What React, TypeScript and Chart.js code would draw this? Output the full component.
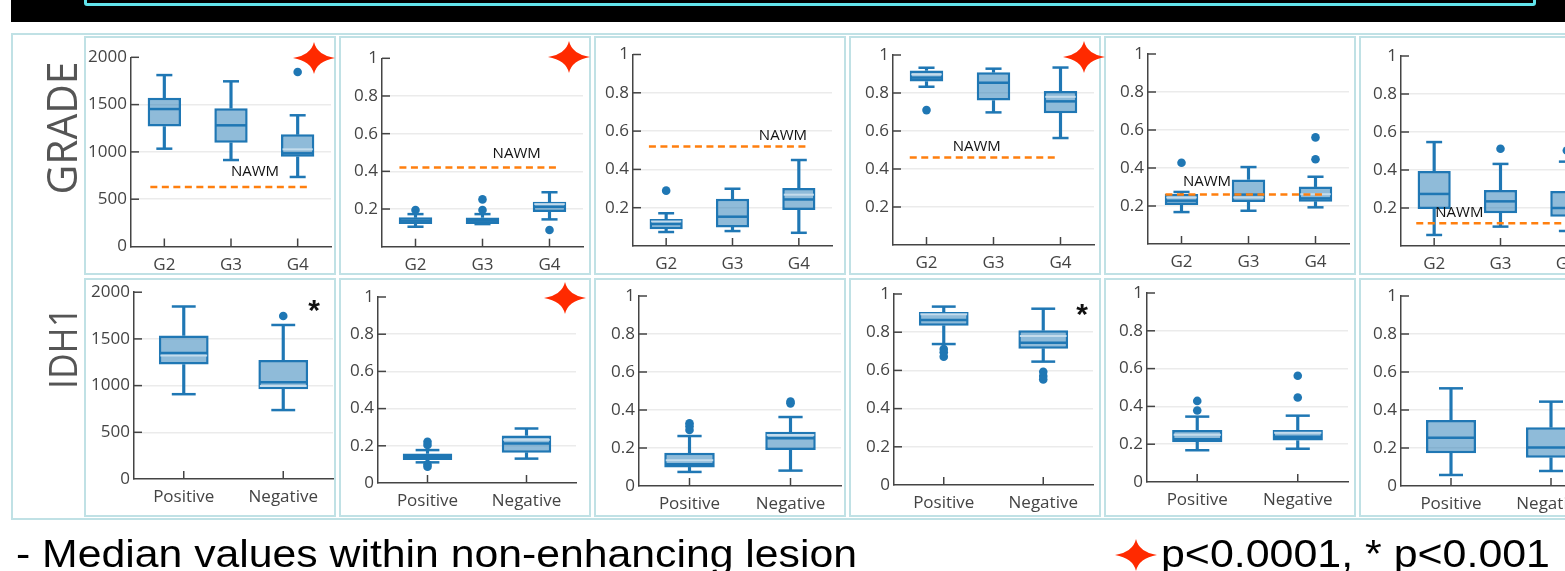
import React, { useEffect, useRef } from "react";
import { Chart, registerables } from "chart.js";

Chart.register(...registerables);

// ---------------- DATA ----------------
const gradeCats = ["G2", "G3", "G4"];
const idhCats = ["Positive", "Negative"];
const rowLabels = ["GRADE", "IDH1"];
const footnote = "- Median values within non-enhancing lesion";
const legendText = "p<0.0001, * p<0.001";
const nawmLabel = "NAWM";

// Row 1 (GRADE), panel A
const gradeALow = [1034, 914, 735];
const gradeAQ1 = [1268, 1097, 949];
const gradeAMed = [1453, 1281, 985];
const gradeAQ3 = [1573, 1461, 1186];
const gradeAHigh = [1812, 1746, 1387];
const gradeALight = [null, null, 1027];
const gradeAOut = [[], [], [1845]];
const gradeANawm = 630;

// panel B
const gradeBLow = [0.106, 0.12, 0.145];
const gradeBQ1 = [0.12, 0.12, 0.184];
const gradeBMed = [0.138, 0.138, 0.212];
const gradeBQ3 = [0.156, 0.155, 0.239];
const gradeBHigh = [0.173, 0.173, 0.289];
const gradeBLight = [null, null, 0.226];
const gradeBOut = [[0.195], [0.195, 0.251], [0.089]];
const gradeBNawm = 0.42;

// panel C
const gradeCLow = [0.073, 0.078, 0.069];
const gradeCQ1 = [0.087, 0.097, 0.188];
const gradeCMed = [0.115, 0.153, 0.243];
const gradeCQ3 = [0.141, 0.247, 0.303];
const gradeCHigh = [0.171, 0.299, 0.449];
const gradeCLight = [0.128, null, 0.268];
const gradeCOut = [[0.289], [], []];
const gradeCNawm = 0.52;

// panel D
const gradeDLow = [0.833, 0.698, 0.563];
const gradeDQ1 = [0.86, 0.76, 0.693];
const gradeDMed = [0.881, 0.854, 0.756];
const gradeDQ3 = [0.919, 0.909, 0.81];
const gradeDHigh = [0.933, 0.928, 0.934];
const gradeDLight = [0.898, null, 0.78];
const gradeDOut = [[0.71], [], []];
const gradeDNawm = 0.46;

// panel E
const gradeELow = [0.168, 0.175, 0.193];
const gradeEQ1 = [0.205, 0.221, 0.223];
const gradeEMed = [0.228, 0.26, 0.24];
const gradeEQ3 = [0.263, 0.34, 0.302];
const gradeEHigh = [0.274, 0.405, 0.354];
const gradeELight = [0.245, 0.245, 0.262];
const gradeEOut = [[0.428], [], [0.561, 0.446]];
const gradeENawm = 0.26;

// panel F
const gradeFLow = [0.058, 0.102, 0.079];
const gradeFQ1 = [0.195, 0.172, 0.154];
const gradeFMed = [0.274, 0.235, 0.2];
const gradeFQ3 = [0.395, 0.295, 0.29];
const gradeFHigh = [0.547, 0.432, 0.444];
const gradeFLight = [null, null, null];
const gradeFOut = [[], [0.512], [0.503]];
const gradeFNawm = 0.12;

// Row 2 (IDH1)
const idhALow = [908, 738];
const idhAQ1 = [1226, 961];
const idhAMed = [1349, 1035];
const idhAQ3 = [1536, 1275];
const idhAHigh = [1847, 1649];
const idhALight = [1321, 995];
const idhAOut = [[], [1745]];

const idhBLow = [0.111, 0.131];
const idhBQ1 = [0.123, 0.163];
const idhBMed = [0.141, 0.213];
const idhBQ3 = [0.159, 0.256];
const idhBHigh = [0.177, 0.293];
const idhBLight = [null, 0.232];
const idhBOut = [[0.222, 0.204, 0.1, 0.087], []];

const idhCLow = [0.074, 0.081];
const idhCQ1 = [0.098, 0.189];
const idhCMed = [0.115, 0.251];
const idhCQ3 = [0.175, 0.286];
const idhCHigh = [0.263, 0.363];
const idhCLight = [0.135, 0.268];
const idhCOut = [[0.33, 0.315, 0.295], [0.444, 0.435]];

const idhDLow = [0.738, 0.646];
const idhDQ1 = [0.834, 0.714];
const idhDMed = [0.864, 0.745];
const idhDQ3 = [0.906, 0.81];
const idhDHigh = [0.934, 0.923];
const idhDLight = [0.894, 0.78];
const idhDOut = [[0.712, 0.695, 0.672], [0.593, 0.571, 0.553]];

const idhELow = [0.168, 0.176];
const idhEQ1 = [0.21, 0.219];
const idhEMed = [0.226, 0.24];
const idhEQ3 = [0.275, 0.275];
const idhEHigh = [0.346, 0.351];
const idhELight = [0.25, 0.26];
const idhEOut = [[0.429, 0.378], [0.562, 0.447]];

const idhFLow = [0.058, 0.079];
const idhFQ1 = [0.172, 0.149];
const idhFMed = [0.254, 0.202];
const idhFQ3 = [0.347, 0.309];
const idhFHigh = [0.514, 0.444];
const idhFLight = [null, null];
const idhFOut = [[], []];

// ---------------- STYLE / LAYOUT ----------------
const BLUE = "#1f77b4";
const FILL = "rgba(31,119,180,0.5)";
const LIGHT = "rgba(200,222,238,0.95)";
const ORANGE = "#ff7f0e";
const AXIS = "#444";
const GRID = "#ebebeb";
const FRAME = "#c0e1e5";
const STAR = "#ff2a00";
const FONT = "'Open Sans', 'Noto Sans', sans-serif";

const panelLefts = [84, 339, 594, 849, 1104, 1359];
const rowTops = [36, 278];
const PANEL_W = 252;
const PANEL_H = 239;

// plot rectangles in page coordinates: [left, right, top(max), bottom(0)]
const plotRects = [
  [[131, 331, 57.3, 246.5], [382, 583, 58.3, 246.7], [633, 832, 54.5, 246], [893, 1094, 55, 245], [1148, 1349, 54, 244], [1401, 1600, 56, 246]],
  [[134, 333, 290, 479], [378, 576, 297, 483], [639, 841, 296, 486], [894, 1093, 294, 485], [1147, 1348, 293, 482], [1401, 1601, 296, 486]],
];
// NAWM line span (category units relative to first/last) and label position [x in cat units, px above]
const nawmSpans = [[-0.21, 0.15], [-0.24, 0.12], [-0.26, 0.14], [-0.25, -0.05], [-0.24, 0.1], [-0.27, 0.15]];
const nawmLabelPos = [[1.36, 15], [1.51, 14], [1.76, 11], [0.75, 11], [0.38, 13], [0.38, 10]];

type PanelSpec = {
  cats: string[];
  low: number[];
  q1: number[];
  med: number[];
  q3: number[];
  high: number[];
  light: (number | null)[];
  out: number[][];
  max: number;
  step: number;
  hideZero: boolean;
  nawm: number | null;
};

const gradePanels: PanelSpec[] = [
  { cats: gradeCats, low: gradeALow, q1: gradeAQ1, med: gradeAMed, q3: gradeAQ3, high: gradeAHigh, light: gradeALight, out: gradeAOut, max: 2000, step: 500, hideZero: false, nawm: gradeANawm },
  { cats: gradeCats, low: gradeBLow, q1: gradeBQ1, med: gradeBMed, q3: gradeBQ3, high: gradeBHigh, light: gradeBLight, out: gradeBOut, max: 1, step: 0.2, hideZero: true, nawm: gradeBNawm },
  { cats: gradeCats, low: gradeCLow, q1: gradeCQ1, med: gradeCMed, q3: gradeCQ3, high: gradeCHigh, light: gradeCLight, out: gradeCOut, max: 1, step: 0.2, hideZero: true, nawm: gradeCNawm },
  { cats: gradeCats, low: gradeDLow, q1: gradeDQ1, med: gradeDMed, q3: gradeDQ3, high: gradeDHigh, light: gradeDLight, out: gradeDOut, max: 1, step: 0.2, hideZero: true, nawm: gradeDNawm },
  { cats: gradeCats, low: gradeELow, q1: gradeEQ1, med: gradeEMed, q3: gradeEQ3, high: gradeEHigh, light: gradeELight, out: gradeEOut, max: 1, step: 0.2, hideZero: true, nawm: gradeENawm },
  { cats: gradeCats, low: gradeFLow, q1: gradeFQ1, med: gradeFMed, q3: gradeFQ3, high: gradeFHigh, light: gradeFLight, out: gradeFOut, max: 1, step: 0.2, hideZero: true, nawm: gradeFNawm },
];
const idhPanels: PanelSpec[] = [
  { cats: idhCats, low: idhALow, q1: idhAQ1, med: idhAMed, q3: idhAQ3, high: idhAHigh, light: idhALight, out: idhAOut, max: 2000, step: 500, hideZero: false, nawm: null },
  { cats: idhCats, low: idhBLow, q1: idhBQ1, med: idhBMed, q3: idhBQ3, high: idhBHigh, light: idhBLight, out: idhBOut, max: 1, step: 0.2, hideZero: false, nawm: null },
  { cats: idhCats, low: idhCLow, q1: idhCQ1, med: idhCMed, q3: idhCQ3, high: idhCHigh, light: idhCLight, out: idhCOut, max: 1, step: 0.2, hideZero: false, nawm: null },
  { cats: idhCats, low: idhDLow, q1: idhDQ1, med: idhDMed, q3: idhDQ3, high: idhDHigh, light: idhDLight, out: idhDOut, max: 1, step: 0.2, hideZero: false, nawm: null },
  { cats: idhCats, low: idhELow, q1: idhEQ1, med: idhEMed, q3: idhEQ3, high: idhEHigh, light: idhELight, out: idhEOut, max: 1, step: 0.2, hideZero: false, nawm: null },
  { cats: idhCats, low: idhFLow, q1: idhFQ1, med: idhFMed, q3: idhFQ3, high: idhFHigh, light: idhFLight, out: idhFOut, max: 1, step: 0.2, hideZero: false, nawm: null },
];
const rows = [gradePanels, idhPanels];

// stars (row, col) and asterisks
const starMarks = [[314, 58], [569, 57], [1084, 57], [565, 298]];
const legendStar = [1136, 555];
const asteriskMarks = [[314, 320], [1082, 324]];

function BoxPanel({ p, row, col }: { p: PanelSpec; row: number; col: number }) {
  const ref = useRef<HTMLCanvasElement>(null);
  const left = panelLefts[col];
  const top = rowTops[row];
  const [pl, pr, pt, pb] = plotRects[row][col];

  useEffect(() => {
    const canvas = ref.current;
    if (!canvas) return;
    const n = p.cats.length;
    const padTop = pt - top;
    const padRight = left + PANEL_W - pr;
    const leftW = pl - left;
    const bottomH = top + PANEL_H - pb;

    const extras = {
      id: "boxExtras",
      beforeDatasetsDraw(chart: any) {
        const { ctx, chartArea: a } = chart;
        const xs = chart.scales.x;
        const ys = chart.scales.y;
        ctx.save();
        ctx.strokeStyle = AXIS;
        ctx.lineWidth = 1.5;
        ys.ticks.forEach((t: any) => {
          if (t.value === 0) return;
          const y = ys.getPixelForValue(t.value);
          ctx.beginPath();
          ctx.moveTo(a.left, y);
          ctx.lineTo(a.left + 8, y);
          ctx.stroke();
        });
        for (let i = 0; i < n; i++) {
          const x = xs.getPixelForValue(i);
          ctx.beginPath();
          ctx.moveTo(x, a.bottom);
          ctx.lineTo(x, a.bottom - 8);
          ctx.stroke();
        }
        ctx.restore();
      },
      afterDatasetsDraw(chart: any) {
        const { ctx, chartArea: a } = chart;
        const xs = chart.scales.x;
        const ys = chart.scales.y;
        const stepPx = a.width / n;
        ctx.save();
        for (let i = 0; i < n; i++) {
          const x = xs.getPixelForValue(i);
          ctx.lineWidth = 2.5;
          ctx.strokeStyle = BLUE;
          [p.low[i], p.high[i]].forEach((v) => {
            const y = ys.getPixelForValue(v);
            ctx.beginPath();
            ctx.moveTo(x - 0.12 * stepPx, y);
            ctx.lineTo(x + 0.12 * stepPx, y);
            ctx.stroke();
          });
          const hw = 0.25 * stepPx - 1.5;
          const lv = p.light[i];
          if (lv !== null && lv !== undefined) {
            const y = ys.getPixelForValue(lv);
            ctx.strokeStyle = LIGHT;
            ctx.lineWidth = 2;
            ctx.beginPath();
            ctx.moveTo(x - hw, y);
            ctx.lineTo(x + hw, y);
            ctx.stroke();
          }
          const ym = ys.getPixelForValue(p.med[i]);
          ctx.strokeStyle = BLUE;
          ctx.lineWidth = 2.5;
          ctx.beginPath();
          ctx.moveTo(x - hw, ym);
          ctx.lineTo(x + hw, ym);
          ctx.stroke();
        }
        if (p.nawm !== null) {
          const [s0, s1] = nawmSpans[col];
          const [lx, ly] = nawmLabelPos[col];
          const x0 = xs.getPixelForValue(0) + s0 * stepPx;
          const x1 = xs.getPixelForValue(n - 1) + s1 * stepPx;
          const y = ys.getPixelForValue(p.nawm);
          ctx.strokeStyle = ORANGE;
          ctx.lineWidth = 2.5;
          ctx.setLineDash([7, 4.5]);
          ctx.beginPath();
          ctx.moveTo(x0, y);
          ctx.lineTo(x1, y);
          ctx.stroke();
          ctx.setLineDash([]);
          ctx.fillStyle = "#111";
          ctx.font = "15px " + FONT;
          ctx.textAlign = "center";
          ctx.textBaseline = "middle";
          ctx.fillText(nawmLabel, xs.getPixelForValue(0) + lx * stepPx, y - ly);
        }
        ctx.restore();
      },
    };

    const outliers: { x: string; y: number }[] = [];
    p.out.forEach((arr, i) => arr.forEach((v) => outliers.push({ x: p.cats[i], y: v })));

    const chart = new Chart(canvas, {
      type: "bar",
      data: {
        labels: p.cats,
        datasets: [
          {
            type: "line",
            data: outliers as any,
            showLine: false,
            pointRadius: 4.3,
            pointBackgroundColor: BLUE,
            pointBorderWidth: 0,
            borderColor: BLUE,
            order: 0,
          } as any,
          {
            type: "bar",
            data: p.cats.map((_, i) => [p.q1[i], p.q3[i]]) as any,
            backgroundColor: FILL,
            borderColor: BLUE,
            borderWidth: 2.5,
            borderSkipped: false,
            barPercentage: 0.5,
            categoryPercentage: 1,
            grouped: false,
            order: 1,
          } as any,
          {
            type: "bar",
            data: p.cats.map((_, i) => [p.low[i], p.q1[i]]) as any,
            backgroundColor: BLUE,
            barThickness: 2.5,
            grouped: false,
            order: 2,
          } as any,
          {
            type: "bar",
            data: p.cats.map((_, i) => [p.q3[i], p.high[i]]) as any,
            backgroundColor: BLUE,
            barThickness: 2.5,
            grouped: false,
            order: 3,
          } as any,
        ],
      },
      options: {
        animation: false,
        responsive: false,
        devicePixelRatio: 1,
        events: [],
        layout: { padding: { top: padTop, right: padRight, left: 0, bottom: 0 }, autoPadding: false } as any,
        plugins: { legend: { display: false }, tooltip: { enabled: false } },
        scales: {
          x: {
            type: "category",
            offset: true,
            grid: { display: false, drawTicks: false },
            border: { display: true, color: AXIS, width: 1.5 },
            ticks: { font: { family: FONT, size: 17 }, color: AXIS, padding: 8, maxRotation: 0, autoSkip: false },
            afterFit: (s: any) => {
              s.height = bottomH;
            },
          },
          y: {
            type: "linear",
            min: 0,
            max: p.max,
            grid: {
              drawTicks: false,
              lineWidth: 1.5,
              color: (c: any) => (c.tick && (c.tick.value === 0 || c.tick.value === p.max) ? "rgba(0,0,0,0)" : GRID),
            },
            border: { display: true, color: AXIS, width: 1.5 },
            ticks: {
              stepSize: p.step,
              font: { family: FONT, size: 17 },
              color: AXIS,
              padding: 4,
              callback: (v: any) => (p.hideZero && v === 0 ? "" : String(Math.round(Number(v) * 100) / 100)),
            },
            afterFit: (s: any) => {
              s.width = leftW;
            },
          },
        },
      } as any,
      plugins: [extras],
    });
    return () => chart.destroy();
  }, []);

  return (
    <canvas
      ref={ref}
      width={PANEL_W}
      height={PANEL_H}
      style={{ position: "absolute", left, top, width: PANEL_W, height: PANEL_H }}
    />
  );
}

function starPath(cx: number, cy: number, rx: number, ry: number) {
  const k = 3;
  return `M ${cx - rx} ${cy} Q ${cx - k} ${cy - k} ${cx} ${cy - ry} Q ${cx + k} ${cy - k} ${cx + rx} ${cy} Q ${cx + k} ${cy + k} ${cx} ${cy + ry} Q ${cx - k} ${cy + k} ${cx - rx} ${cy} Z`;
}

export default function App() {
  return (
    <div style={{ position: "fixed", left: 0, top: 0, width: 1565, height: 571, overflow: "hidden", background: "#fff" }}>
      {/* top black band */}
      <div style={{ position: "absolute", left: 11, top: 0, width: 1560, height: 22, background: "#000" }} />
      <div
        style={{
          position: "absolute",
          left: 84,
          top: -20,
          width: 1452,
          height: 26,
          border: "3px solid #62e4ec",
          borderRadius: 3,
          boxSizing: "border-box",
        }}
      />
      {/* outer frame */}
      <div style={{ position: "absolute", left: 11, top: 33, width: 1570, height: 487, border: `2px solid ${FRAME}`, boxSizing: "border-box" }} />
      {rows.map((r, ri) =>
        r.map((p, ci) => (
          <React.Fragment key={`${ri}-${ci}`}>
            <BoxPanel p={p} row={ri} col={ci} />
            <div
              style={{
                position: "absolute",
                left: panelLefts[ci],
                top: rowTops[ri],
                width: PANEL_W,
                height: PANEL_H,
                border: `2px solid ${FRAME}`,
                boxSizing: "border-box",
                pointerEvents: "none",
              }}
            />
          </React.Fragment>
        ))
      )}
      <svg width={1565} height={571} style={{ position: "absolute", left: 0, top: 0, pointerEvents: "none" }}>
        <text
          transform="translate(77,128) rotate(-90)"
          textAnchor="middle"
          fontFamily={FONT}
          fontSize={42}
          fill="#555"
          textLength={133}
          lengthAdjust="spacingAndGlyphs"
        >
          {rowLabels[0]}
        </text>
        <text
          transform="translate(77,348) rotate(-90)"
          textAnchor="middle"
          fontFamily={FONT}
          fontSize={39}
          fill="#555"
          textLength={82}
          lengthAdjust="spacingAndGlyphs"
        >
          {rowLabels[1]}
        </text>
        {starMarks.map(([x, y], i) => (
          <path key={i} d={starPath(x, y, 21, 16)} fill={STAR} />
        ))}
        {asteriskMarks.map(([x, y], i) => (
          <text key={i} x={x} y={y} textAnchor="middle" fontFamily="'Liberation Sans', Arial, sans-serif" fontWeight="bold" fontSize={30} fill="#111">
            *
          </text>
        ))}
        <path d={starPath(legendStar[0], legendStar[1], 21, 16)} fill={STAR} />
        <text x={16} y={567} fontFamily="'Liberation Sans', Arial, sans-serif" fontSize={38} fill="#000" textLength={841} lengthAdjust="spacingAndGlyphs">
          {footnote}
        </text>
        <text x={1161} y={567} fontFamily="'Liberation Sans', Arial, sans-serif" fontSize={38} fill="#000" textLength={389} lengthAdjust="spacingAndGlyphs">
          {legendText}
        </text>
      </svg>
    </div>
  );
}
